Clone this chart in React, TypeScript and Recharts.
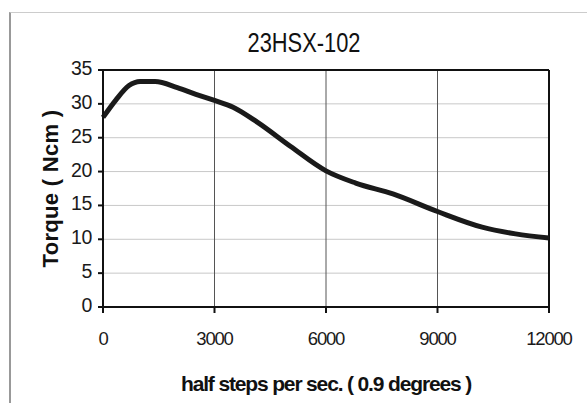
import { LineChart, Line, XAxis, YAxis, CartesianGrid, ReferenceLine, Label } from 'recharts'

const speeds = [0, 350, 700, 1000, 1400, 2000, 2500, 3000, 3500, 4150, 5050, 6000, 6800, 7800, 9000, 10200, 11100, 12000]
const torque = [28.0, 30.6, 32.7, 33.3, 33.3, 32.4, 31.4, 30.5, 29.5, 27.3, 23.7, 20.1, 18.3, 16.7, 14.1, 11.8, 10.8, 10.2]
const xTicks = [0, 3000, 6000, 9000, 12000]
const yTicks = [0, 5, 10, 15, 20, 25, 30, 35]

const data = speeds.map((s, i) => ({ speed: s, torque: torque[i] }))

const font = 'Arial, "Liberation Sans", sans-serif'

// eslint-disable-next-line @typescript-eslint/no-explicit-any
function XTick({ x, y, payload }: any) {
  return (
    <text x={x} y={y} dy={13.5} textAnchor="middle" fontFamily={font} fontSize={18.5} letterSpacing={-1.2} fill="#1a1a1a">
      {payload.value}
    </text>
  )
}

// eslint-disable-next-line @typescript-eslint/no-explicit-any
function YTick({ x, y, payload }: any) {
  return (
    <text x={x} y={y} dy={5} textAnchor="end" fontFamily={font} fontSize={19.5} letterSpacing={-0.3} fill="#1a1a1a">
      {payload.value}
    </text>
  )
}

export default function App() {
  return (
    <div style={{ position: 'absolute', left: 0, top: 0, width: 587, height: 403, background: '#fff', overflow: 'hidden' }}>
      <div style={{ position: 'absolute', left: 9, top: 12, width: 578, height: 391, borderLeft: '2px solid #999', borderTop: '1px solid #ccc' }} />
      <div
        style={{
          position: 'absolute', left: 303.5, top: 29.5, width: 200, marginLeft: -100, textAlign: 'center',
          fontFamily: font, fontSize: 27, lineHeight: '27px', color: '#111',
          transform: 'scaleX(0.81)',
        }}
      >
        23HSX-102
      </div>
      <LineChart width={587} height={403} data={data} margin={{ top: 70, right: 38, bottom: 8, left: 23 }}>
        <CartesianGrid horizontal vertical={false} stroke="#c8c8c8" />
        <CartesianGrid horizontal={false} vertical stroke="#555" />
        <XAxis
          dataKey="speed"
          type="number"
          domain={[0, 12000]}
          ticks={xTicks}
          tick={<XTick />}
          tickSize={6}
          tickMargin={18}
          height={88}
          stroke="#111"
          strokeWidth={2}
          interval={0}
        >
          <Label
            value="half steps per sec. ( 0.9 degrees )"
            position="insideBottom"
            offset={4}
            style={{ fontFamily: font, fontSize: 21, fontWeight: 'bold', letterSpacing: -1.15, fill: '#111' }}
          />
        </XAxis>
        <YAxis
          domain={[0, 35]}
          ticks={yTicks}
          tick={<YTick />}
          tickSize={5}
          tickMargin={6}
          width={80}
          stroke="#111"
          strokeWidth={2}
          interval={0}
        >
          <Label
            value="Torque ( Ncm )"
            angle={-90}
            position="insideLeft"
            offset={27}
            style={{ fontFamily: font, fontSize: 22, fontWeight: 'bold', letterSpacing: 0.3, fill: '#111', textAnchor: 'middle' }}
          />
        </YAxis>
        <ReferenceLine y={35} stroke="#111" strokeWidth={2} />
        <ReferenceLine x={12000} stroke="#111" strokeWidth={2} />
        <Line
          type="monotone"
          dataKey="torque"
          stroke="#1a1a1a"
          strokeWidth={5}
          dot={false}
          isAnimationActive={false}
        />
      </LineChart>
    </div>
  )
}
